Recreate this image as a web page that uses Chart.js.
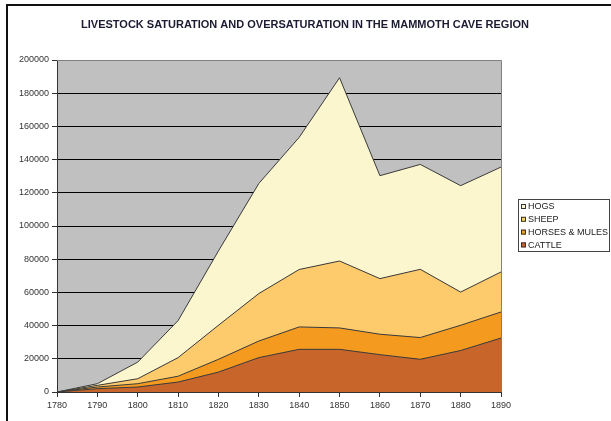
<!DOCTYPE html>
<html>
<head>
<meta charset="utf-8">
<script src="https://cdn.jsdelivr.net/npm/chart.js@4.4.1/dist/chart.umd.min.js"></script>
<style>
  html, body { margin: 0; padding: 0; background: #fff; }
  #wrap { width: 611px; height: 421px; }
</style>
</head>
<body>
<div id="wrap"><canvas id="area-chart" width="611" height="421"></canvas></div>
<script>
const years = ['1780','1790','1800','1810','1820','1830','1840','1850','1860','1870','1880','1890'];
const cattle = [0, 2000, 3000, 6000, 12000, 20700, 25700, 25700, 22500, 19700, 25000, 32500];
const horses = [0, 1000, 2000, 3500, 7700, 10000, 13500, 12900, 12300, 13100, 15200, 15700];
const sheep  = [0, 1000, 3000, 11200, 20500, 28600, 34600, 40300, 33500, 41100, 20000, 24100];
const hogs   = [0, 1000, 10000, 22300, 44800, 66300, 79600, 110400, 62000, 63200, 64100, 63200];
const yTicks = [0, 20000, 40000, 60000, 80000, 100000, 120000, 140000, 160000, 180000, 200000];

const titleText = 'LIVESTOCK SATURATION AND OVERSATURATION IN THE MAMMOTH CAVE REGION';
const font = '"Liberation Sans", Arial, sans-serif';

// frame, grey plot background, title and the little boxed legend
const decor = {
  id: 'decor',
  beforeDraw(chart) {
    const { ctx, chartArea: a } = chart;
    ctx.save();
    ctx.fillStyle = '#c0c0c0';
    ctx.fillRect(a.left, a.top, a.right - a.left, a.bottom - a.top);
    ctx.restore();
  },
  afterDraw(chart) {
    const { ctx, chartArea: a } = chart;
    ctx.save();
    // plot border (top/right)
    ctx.strokeStyle = '#808080';
    ctx.lineWidth = 1;
    ctx.beginPath();
    ctx.moveTo(a.left, a.top + 0.5);
    ctx.lineTo(a.right + 0.5, a.top + 0.5);
    ctx.lineTo(a.right + 0.5, a.bottom);
    ctx.stroke();

    // outer frame
    ctx.fillStyle = '#111';
    ctx.fillRect(6, 4, 2, 417);
    ctx.fillRect(6, 4, 605, 2);

    // title
    ctx.fillStyle = '#1b1b33';
    ctx.font = 'bold 11px ' + font;
    ctx.textAlign = 'center';
    ctx.textBaseline = 'middle';
    ctx.fillText(titleText, 305, 25);

    // legend
    const lx = 518, ly = 199, lw = 91, lh = 52;
    ctx.fillStyle = '#fff';
    ctx.fillRect(lx, ly, lw, lh);
    ctx.strokeStyle = '#444';
    ctx.strokeRect(lx + 0.5, ly + 0.5, lw, lh);
    ctx.font = '9px ' + font;
    ctx.textAlign = 'left';
    const ds = chart.data.datasets.slice().reverse();
    ds.forEach((d, i) => {
      const y = ly + 7.5 + i * 12.8;
      ctx.fillStyle = d.backgroundColor;
      ctx.fillRect(lx + 3, y - 2.5, 5, 5);
      ctx.strokeStyle = '#333';
      ctx.strokeRect(lx + 3.5, y - 2, 4, 4);
      ctx.fillStyle = '#222';
      ctx.fillText(d.label, lx + 10, y + 0.5);
    });
    ctx.restore();
  }
};

const mk = (label, data, color, fill) => ({
  label: label,
  data: data,
  backgroundColor: color,
  borderColor: '#3a3a3a',
  borderWidth: 1,
  pointRadius: 0,
  tension: 0,
  fill: fill
});

new Chart(document.getElementById('area-chart'), {
  type: 'line',
  data: {
    labels: years,
    datasets: [
      mk('CATTLE', cattle, '#c8652a', 'origin'),
      mk('HORSES & MULES', horses, '#f39a1f', '-1'),
      mk('SHEEP', sheep, '#fdcb6c', '-1'),
      mk('HOGS', hogs, '#fbf6cd', '-1')
    ]
  },
  options: {
    responsive: false,
    animation: false,
    layout: { padding: { left: 0, right: 110, top: 60, bottom: 0 } },
    plugins: {
      legend: { display: false },
      title: { display: false },
      tooltip: { enabled: false }
    },
    scales: {
      x: {
        offset: false,
        grid: { drawOnChartArea: false, tickLength: 5, tickColor: '#333' },
        border: { color: '#333' },
        ticks: { color: '#333', font: { family: font, size: 9 }, maxRotation: 0, padding: 3 },
        afterFit(s) { s.height = 29; }
      },
      y: {
        stacked: true,
        min: 0,
        max: 200000,
        afterBuildTicks(s) { s.ticks = yTicks.map(v => ({ value: v })); },
        grid: { color: '#000', tickLength: 5, tickColor: '#333' },
        border: { color: '#333' },
        ticks: {
          color: '#333',
          font: { family: font, size: 9 },
          padding: 3,
          callback: v => String(v)
        },
        afterFit(s) { s.width = 57; }
      }
    }
  },
  plugins: [decor]
});
</script>
</body>
</html>
